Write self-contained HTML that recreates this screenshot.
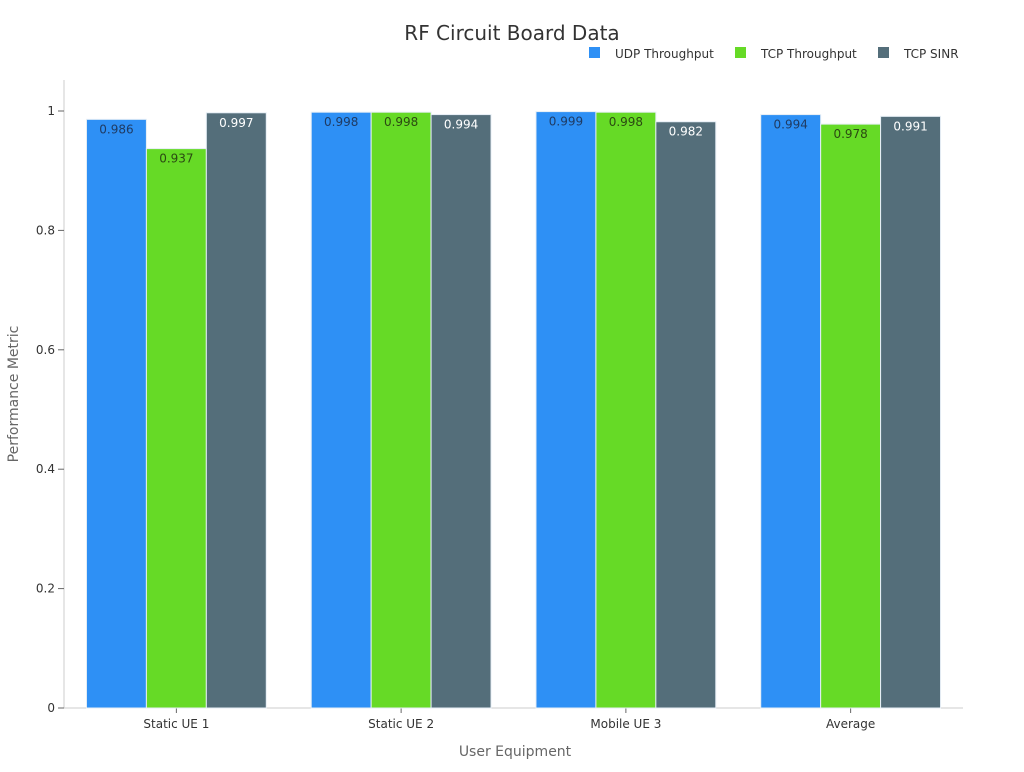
<!DOCTYPE html>
<html><head><meta charset="utf-8"><style>
body{margin:0;background:#fff;font-family:"DejaVu Sans","Liberation Sans",sans-serif}
svg text{font-family:"DejaVu Sans","Liberation Sans",sans-serif}
</style></head><body>
<svg id="chart" width="1024" height="768" xmlns="http://www.w3.org/2000/svg">
<text x="512" y="40" text-anchor="middle" font-size="20" fill="#333">RF Circuit Board Data</text>
<g id="legend"></g>
<g id="axes"></g>
<g id="bars"></g>
<text x="515" y="756" text-anchor="middle" font-size="14" fill="#666">User Equipment</text>
<text x="18" y="394" text-anchor="middle" font-size="14" fill="#666" transform="rotate(-90 18 394)">Performance Metric</text>
</svg>
<script>
const categories = ["Static UE 1","Static UE 2","Mobile UE 3","Average"];
const seriesNames = ["UDP Throughput","TCP Throughput","TCP SINR"];
const udp = [0.986,0.998,0.999,0.994];
const tcp = [0.937,0.998,0.998,0.978];
const sinr = [0.997,0.994,0.982,0.991];
const yTicks = [0,0.2,0.4,0.6,0.8,1];
const yTickLabels = ["0","0.2","0.4","0.6","0.8","1"];

const series=[udp,tcp,sinr];
const colors=["#2e90f5","#66da26","#546e7a"];
const labelColors=["#1f3b63","#2b4a12","#ffffff"];
const NS="http://www.w3.org/2000/svg";
const X0=64,X1=963,Y0=708,Y1=111;
const y=v=>Y0-(Y1-Y0)*-v;
const yS=v=>Y0-v*(Y0-Y1);
const band=(X1-X0)/categories.length;
const bw=band*0.8/3;
function mk(tag,attrs,parent){const e=document.createElementNS(NS,tag);for(const k in attrs)e.setAttribute(k,attrs[k]);parent.appendChild(e);return e;}
const axes=document.getElementById('axes'),bars=document.getElementById('bars'),legend=document.getElementById('legend');
let l=mk('line',{x1:X0,y1:80,x2:X0,y2:Y0,stroke:'#ccc'},axes);


l=mk('line',{x1:X0,y1:Y0,x2:X1,y2:Y0,stroke:'#ccc'},axes);


yTicks.forEach((t,i)=>{
 const yy=yS(t);
 const tk=mk('line',{x1:X0-6,y1:yy,x2:X0,y2:yy,stroke:'#666'},axes);
 
 
 const tx=mk('text',{x:X0-9,y:yy+4,'text-anchor':'end','font-size':12,fill:'#333'},axes);
 tx.textContent=yTickLabels[i];
 
 
});
categories.forEach((c,i)=>{
 const cx=X0+band*(i+0.5);
 const tk=mk('line',{x1:cx,y1:Y0,x2:cx,y2:Y0+5,stroke:'#666'},axes);
 
 
 const tx=mk('text',{x:cx,y:Y0+20,'text-anchor':'middle','font-size':12,fill:'#333'},axes);
 tx.textContent=c;
 
 
 series.forEach((s,j)=>{
  const x=cx-1.5*bw+j*bw, top=yS(s[i]);
  const r=mk('rect',{x:x,y:top,width:bw,height:Y0-top,fill:colors[j],stroke:'#e6eef5','stroke-width':1},bars);
  
  
  const t=mk('text',{x:x+bw/2,y:top+14,'text-anchor':'middle','font-size':12,fill:labelColors[j]},bars);
  t.textContent=s[i].toFixed(3);
  
  
 });
});
const lx=[589,735,878];
seriesNames.forEach((n,j)=>{
 const r=mk('rect',{x:lx[j],y:47,width:11,height:11,fill:colors[j]},legend);
 
 
 const t=mk('text',{x:lx[j]+26,y:58,'font-size':12,fill:'#333'},legend);
 t.textContent=n;
 
 
});
</script>
</body></html>
